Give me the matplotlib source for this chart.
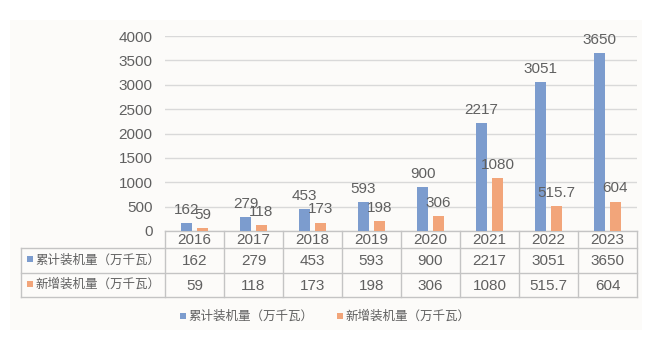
import matplotlib
matplotlib.use("Agg")
import matplotlib.pyplot as plt
from matplotlib.patches import Rectangle
import numpy as np

plt.rcParams['font.family'] = ['Liberation Sans', 'Noto Sans CJK SC', 'DejaVu Sans']

years = ['2016', '2017', '2018', '2019', '2020', '2021', '2022', '2023']
total = [162, 279, 453, 593, 900, 2217, 3051, 3650]
added = [59, 118, 173, 198, 306, 1080, 515.7, 604]
total_labels = ['162', '279', '453', '593', '900', '2217', '3051', '3650']
added_labels = ['59', '118', '173', '198', '306', '1080', '515.7', '604']
series_names = ['累计装机量（万千瓦）', '新增装机量（万千瓦）']

BLUE = '#7c9cce'
ORANGE = '#f2a57a'
TEXT = '#606060'
GRID = '#d9d9d9'
BORDER = '#c4c4c4'

W, H = 660, 340
fig = plt.figure(figsize=(W / 100, H / 100), dpi=100)
fig.patch.set_facecolor('white')

# pixel layout
px_left, px_right = 165, 637
px_zero, px_top = 231, 36
lab_left = 21
row_edges = [231, 248, 273, 297]


def fx(x):
    return x / W


def fy(y):
    return 1 - y / H


# overlay in pixel coords for panel, table and legend
over = fig.add_axes([0, 0, 1, 1], zorder=0)
over.set_xlim(0, W)
over.set_ylim(H, 0)
over.axis('off')
over.add_patch(Rectangle((10, 20), 632, 310, facecolor='#fcfbf9', edgecolor='none'))

ax = fig.add_axes([fx(px_left), fy(px_zero), fx(px_right) - fx(px_left), fy(px_top) - fy(px_zero)], zorder=2)
ax.patch.set_alpha(0)
x = np.arange(len(years))
bw = 0.19
off = 0.135
ax.bar(x - off, total, bw, color=BLUE, zorder=3)
ax.bar(x + off, added, bw, color=ORANGE, zorder=3)
for xi, v, s in zip(x, total, total_labels):
    ax.annotate(s, (xi - off, v), xytext=(0, 9.5), textcoords='offset points',
                ha='center', va='center', fontsize=11, color=TEXT, zorder=4)
for xi, v, s in zip(x, added, added_labels):
    ax.annotate(s, (xi + off, v), xytext=(0, 9.5), textcoords='offset points',
                ha='center', va='center', fontsize=11, color=TEXT, zorder=4)

ax.set_xlim(-0.5, len(years) - 0.5)
ax.set_ylim(0, 4000)
ax.set_yticks(np.arange(0, 4001, 500))
ax.yaxis.grid(True, color=GRID, linewidth=1, zorder=0)
ax.set_axisbelow(True)
ax.set_xticks([])
ax.tick_params(axis='y', length=0, pad=9, labelsize=11, labelcolor=TEXT)
for sp in ax.spines.values():
    sp.set_visible(False)

# data table under the axis
col_w = (px_right - px_left) / len(years)
lw = 1.0
over.plot([px_left, px_right], [row_edges[0], row_edges[0]], color=BORDER, lw=lw)
for yy in row_edges[1:]:
    over.plot([lab_left, px_right], [yy, yy], color=BORDER, lw=lw)
over.plot([lab_left, lab_left], [row_edges[1], row_edges[3]], color=BORDER, lw=lw)
for i in range(len(years) + 1):
    xx = px_left + i * col_w
    over.plot([xx, xx], [row_edges[0], row_edges[3]], color=BORDER, lw=lw)

rows = [years, total_labels, added_labels]
for r, vals in enumerate(rows):
    yc = (row_edges[r] + row_edges[r + 1]) / 2 + 0.5
    for i, s in enumerate(vals):
        over.text(px_left + (i + 0.5) * col_w, yc, s, ha='center', va='center',
                  fontsize=11, color=TEXT)

for r, (name, c) in enumerate(zip(series_names, [BLUE, ORANGE])):
    yc = (row_edges[r + 1] + row_edges[r + 2]) / 2
    over.add_patch(Rectangle((27, yc - 4.5), 6, 6, facecolor=c, edgecolor='none'))
    over.text(35, yc, name, ha='left', va='center', fontsize=9, color=TEXT)

# legend
leg_y = 317
for lx, name, c in [(180, series_names[0], BLUE), (337, series_names[1], ORANGE)]:
    over.add_patch(Rectangle((lx, leg_y - 4), 6, 6, facecolor=c, edgecolor='none'))
    over.text(lx + 8, leg_y, name, ha='left', va='center', fontsize=9, color=TEXT)

fig.savefig('out.png', dpi=100, facecolor='white')
